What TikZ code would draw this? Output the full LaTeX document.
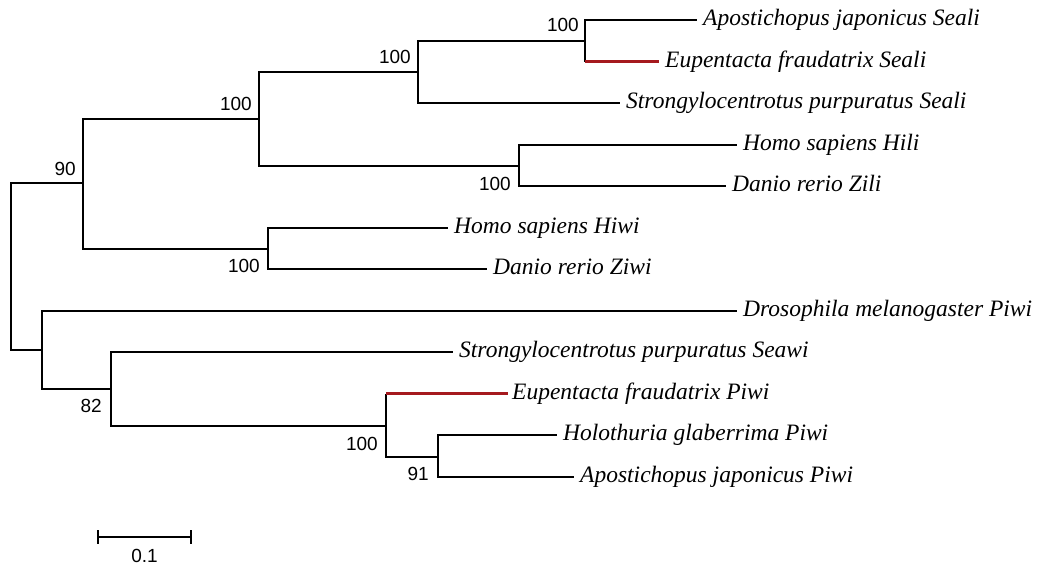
\documentclass[tikz,border=0pt]{standalone}
\usepackage{fontspec}
\setmainfont{Liberation Serif}
\newfontfamily\numfont{Liberation Sans}
\definecolor{branchred}{RGB}{165,25,30}
\begin{document}
\begin{tikzpicture}[x=1pt,y=-1pt,
  br/.style={line width=2pt,black},
  redbr/.style={line width=3pt,branchred},
  taxon/.style={anchor=base west,inner sep=0pt,font=\fontsize{23.5}{23.5}\selectfont\itshape},
  bsabove/.style={anchor=base east,inner sep=0pt,font=\fontsize{19}{19}\selectfont\numfont},
  bsbelow/.style={anchor=base east,inner sep=0pt,font=\fontsize{19}{19}\selectfont\numfont}]
\useasboundingbox (0,0) rectangle (1042,565);
% internal nodes (x of vertical, y of incoming branch)
\coordinate (root) at (11,266.5);
\coordinate (n90) at (83,183);
\coordinate (nB) at (259,118.5);
\coordinate (nC) at (418,72);
\coordinate (nD) at (585,40.5);
\coordinate (nE) at (519,165.5);
\coordinate (nF) at (268,248.5);
\coordinate (nG) at (42,350);
\coordinate (n82) at (111,388.5);
\coordinate (nH) at (386,425.5);
\coordinate (n91) at (438,456.5);
% leaves
\coordinate (l1) at (697,20);
\coordinate (l2) at (659,61.5);
\coordinate (l3) at (620,103);
\coordinate (l4) at (737,144.5);
\coordinate (l5) at (726,186);
\coordinate (l6) at (448,227.5);
\coordinate (l7) at (487,269);
\coordinate (l8) at (737,310.5);
\coordinate (l9) at (453,352);
\coordinate (l10) at (508,393.5);
\coordinate (l11) at (557,435);
\coordinate (l12) at (574,476.5);
% branches
\draw[br] (root) |- (n90);
\draw[br] (root) |- (nG);
\draw[br] (n90) |- (nB);
\draw[br] (n90) |- (nF);
\draw[br] (nB) |- (nC);
\draw[br] (nB) |- (nE);
\draw[br] (nC) |- (nD);
\draw[br] (nC) |- (l3);
\draw[br] (nD) |- (l1);
\draw[br] (nD) -- (nD |- l2);
\draw[redbr] (nD |- l2) -- (l2);
\draw[br] (nE) |- (l4);
\draw[br] (nE) |- (l5);
\draw[br] (nF) |- (l6);
\draw[br] (nF) |- (l7);
\draw[br] (nG) |- (l8);
\draw[br] (nG) |- (n82);
\draw[br] (n82) |- (l9);
\draw[br] (n82) |- (nH);
\draw[br] (nH) -- (nH |- l10);
\draw[redbr] (nH |- l10) -- (l10);
\draw[br] (nH) |- (n91);
\draw[br] (n91) |- (l11);
\draw[br] (n91) |- (l12);
% taxon labels
\node[taxon] (t1) at ([xshift=6pt,yshift=-5.5pt]l1) {Apostichopus japonicus Seali};
\node[taxon] (t2) at ([xshift=6pt,yshift=-5.5pt]l2) {Eupentacta fraudatrix Seali};
\node[taxon] (t3) at ([xshift=6pt,yshift=-5.5pt]l3) {Strongylocentrotus purpuratus Seali};
\node[taxon] (t4) at ([xshift=6pt,yshift=-5.5pt]l4) {Homo sapiens Hili};
\node[taxon] (t5) at ([xshift=6pt,yshift=-5.5pt]l5) {Danio rerio Zili};
\node[taxon] (t6) at ([xshift=6pt,yshift=-5.5pt]l6) {Homo sapiens Hiwi};
\node[taxon] (t7) at ([xshift=6pt,yshift=-5.5pt]l7) {Danio rerio Ziwi};
\node[taxon] (t8) at ([xshift=6pt,yshift=-5.5pt]l8) {Drosophila melanogaster Piwi};
\node[taxon] (t9) at ([xshift=6pt,yshift=-5.5pt]l9) {Strongylocentrotus purpuratus Seawi};
\node[taxon] (t10) at ([xshift=4pt,yshift=-5.5pt]l10) {Eupentacta fraudatrix Piwi};
\node[taxon] (t11) at ([xshift=6pt,yshift=-5.5pt]l11) {Holothuria glaberrima Piwi};
\node[taxon] (t12) at ([xshift=6pt,yshift=-5.5pt]l12) {Apostichopus japonicus Piwi};
% bootstrap values
\node[bsabove] (b90) at ([xshift=-7pt,yshift=8pt]n90) {90};
\node[bsabove] (bB) at ([xshift=-7pt,yshift=8pt]nB) {100};
\node[bsabove] (bC) at ([xshift=-7pt,yshift=9pt]nC) {100};
\node[bsabove] (bD) at ([xshift=-6pt,yshift=9pt]nD) {100};
\node[bsbelow] (bE) at ([xshift=-8pt,yshift=-24.5pt]nE) {100};
\node[bsbelow] (bF) at ([xshift=-8pt,yshift=-24pt]nF) {100};
\node[bsbelow] (b82) at ([xshift=-9pt,yshift=-24pt]n82) {82};
\node[bsbelow] (bH) at ([xshift=-8pt,yshift=-24.5pt]nH) {100};
\node[bsbelow] (b91) at ([xshift=-9pt,yshift=-24pt]n91) {91};
% scale bar
\coordinate (sL) at (98,537);
\coordinate (sR) at (191,537);
\draw[br] (sL) -- (sR);
\draw[br] ([yshift=7pt]sL) -- ([yshift=-7pt]sL);
\draw[br] ([yshift=7pt]sR) -- ([yshift=-7pt]sR);
\node[anchor=base,inner sep=0pt,font=\fontsize{19}{19}\selectfont\numfont] (sc) at (144.5,562.5) {0.1};
\end{tikzpicture}
\end{document}
